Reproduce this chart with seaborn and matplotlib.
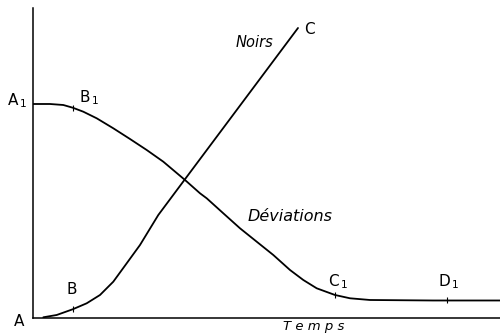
import numpy as np
import pandas as pd
import matplotlib
matplotlib.use("Agg")
import matplotlib.pyplot as plt
import seaborn as sns

# Values (arbitrary units: x = time, y = level)
dev_x = [0, 17, 30.3, 39.7, 50.3, 63.7, 80.3, 97, 113.7, 130.3, 152, 167, 173.7,
         190.3, 207, 223.7, 240.3, 257, 270.3, 283.7, 302, 317, 337, 400, 467]
dev_y = [214, 214, 213, 210.3, 206.3, 199.7, 189.7, 179, 168, 156.3, 138, 124.7, 119.7,
         104.7, 89.7, 76.3, 63, 48, 38, 29.7, 23, 19.7, 18, 17.5, 17.5]

noirs_x = [10.3, 23.7, 39.7, 53.7, 67, 80.3, 93.7, 107, 125.3, 152, 265]
noirs_y = [0.7, 3, 8.7, 14.7, 23, 36.3, 54.7, 73, 103, 138.8, 290]

# marked points (small cross ticks)
tick_dev_x = [39.7, 302, 414]
tick_dev_y = [210.3, 23, 17.5]
tick_noirs_x = [39.7]
tick_noirs_y = [8.7]

sns.set_style("white")
plt.rcParams['font.family'] = ['DejaVu Sans']
plt.rcParams['mathtext.fontset'] = 'dejavusans'
plt.rcParams['text.color'] = 'black'

fig = plt.figure(figsize=(5, 3.36), dpi=100)
ax = fig.add_axes([0.066, 0.0536, 0.934, 0.9226])

dev = pd.DataFrame({"x": dev_x, "y": dev_y})
noirs = pd.DataFrame({"x": noirs_x, "y": noirs_y})
sns.lineplot(data=dev, x="x", y="y", sort=False, color="black", lw=1.3,
             solid_joinstyle="round", ax=ax)
sns.lineplot(data=noirs, x="x", y="y", sort=False, color="black", lw=1.3,
             solid_joinstyle="round", ax=ax)
ax.plot(tick_dev_x, tick_dev_y, ls="none", marker="|", ms=5, mew=0.8, color="black")
ax.plot(tick_noirs_x, tick_noirs_y, ls="none", marker="|", ms=5, mew=0.8, color="black")

ax.set_xlim(0, 467)
ax.set_ylim(0, 310)
for s in ["top", "right"]:
    ax.spines[s].set_visible(False)
for s in ["left", "bottom"]:
    ax.spines[s].set_color("black")
    ax.spines[s].set_linewidth(1.1)
ax.set_xticks([])
ax.set_yticks([])
ax.set_xlabel("")
ax.set_ylabel("")

kw = dict(fontsize=11, color="black", clip_on=False, va="center", ha="left")
ax.text(-26, 217, r"A$_{\,1}$", **kw)
ax.text(46, 220.5, r"B$_{\,1}$", **kw)
ax.text(-19, -4, "A", **kw)
ax.text(33, 28, "B", **kw)
ax.text(271, 288, "C", **kw)
ax.text(295, 36.5, r"C$_{\,1}$", **kw)
ax.text(405, 36.5, r"D$_{\,1}$", **kw)

tkw = dict(color="black", style="italic", va="center", ha="left", clip_on=False)
ax.text(203, 275.5, "Noirs", fontsize=10.5, **tkw)
ax.text(215, 101.5, "Déviations", fontsize=11.5, **tkw)
ax.text(250, -8.5, "T e m p s", fontsize=9.5, **tkw)

plt.savefig("out.png", dpi=100)
